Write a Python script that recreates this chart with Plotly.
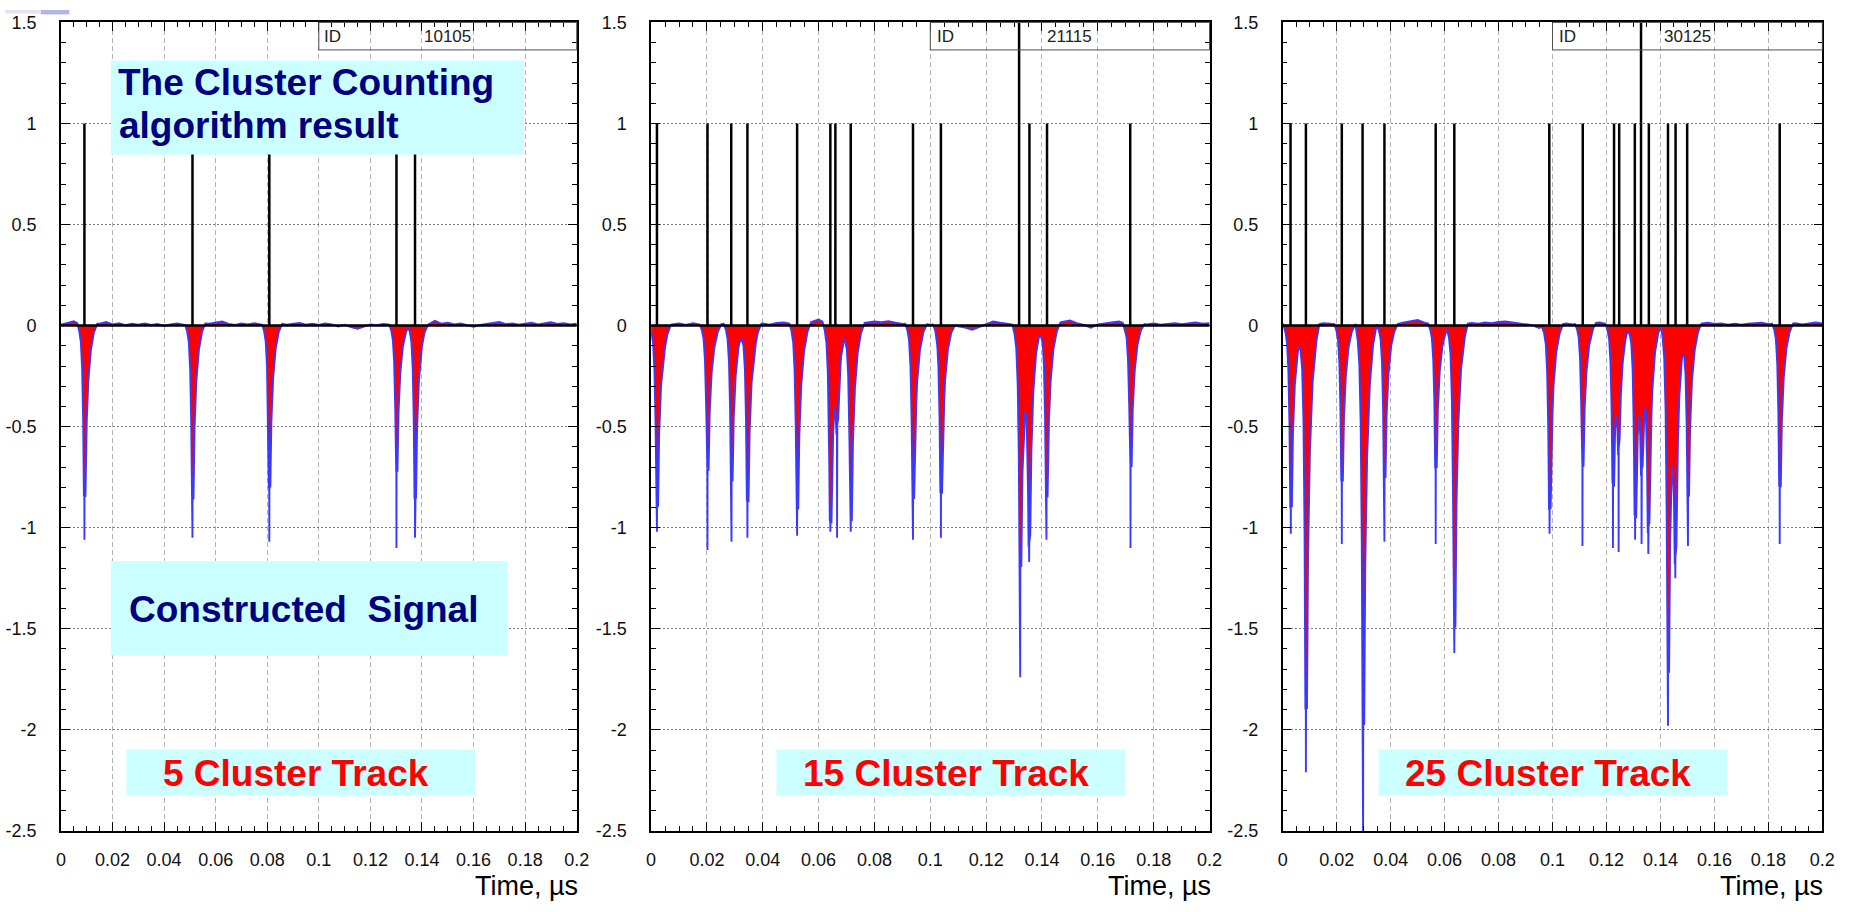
import numpy as np
import plotly.graph_objects as go

FIG_W, FIG_H = 1860, 912

# ---------------- axis tick labels ----------------
X_TICKS = [0, 0.02, 0.04, 0.06, 0.08, 0.1, 0.12, 0.14, 0.16, 0.18, 0.2]
X_TICK_TEXT = ["0", "0.02", "0.04", "0.06", "0.08", "0.1", "0.12", "0.14", "0.16", "0.18", "0.2"]
Y_TICKS = [-2.5, -2, -1.5, -1, -0.5, 0, 0.5, 1, 1.5]
Y_TICK_TEXT = ["-2.5", "-2", "-1.5", "-1", "-0.5", "0", "0.5", "1", "1.5"]

# ---------------- event 10105 : 5 cluster track ----------------
COUNT_T_10105 = [0.0091, 0.0510, 0.0808, 0.1301, 0.1373]
COUNT_H_10105 = [1, 1, 1, 1, 1]
PULSE_T_10105 = [0.0091, 0.0510, 0.0808, 0.1301, 0.1373]
PULSE_TIP_10105 = [-1.06, -1.05, -1.07, -1.10, -1.05]
PULSE_BODY_10105 = [-0.84, -0.86, -0.80, -0.72, -0.86]
NOISE_10105 = [
    0.005, 0.012, 0.022, 0.004, -0.004, 0.008, 0.010, 0.018, 0.006, 0.012,
    0.002, 0.009, 0.004, 0.011, 0.003, 0.008, -0.002, 0.006, 0.010, 0.004,
    0.000, 0.007, 0.012, 0.009, 0.014, 0.020, 0.008, 0.003, 0.010, 0.006,
    0.012, 0.005, 0.000, 0.006, 0.011, 0.004, 0.008, 0.013, 0.005, 0.009,
    0.003, 0.010, 0.006, -0.004, 0.004, -0.008, -0.016, -0.004, 0.006, 0.002,
    0.008, 0.004, 0.000, 0.005, 0.002, 0.008, 0.012, 0.006, 0.024, 0.010,
    0.014, 0.006, 0.011, 0.004, -0.006, 0.003, 0.009, 0.013, 0.018, 0.007,
    0.011, 0.004, 0.010, 0.014, 0.006, 0.012, 0.017, 0.008, 0.012, 0.006,
    0.010,
]

# ---------------- event 21115 : 15 cluster track ----------------
COUNT_T_21115 = [0.0021, 0.0202, 0.0287, 0.0345, 0.0523, 0.0642, 0.0660, 0.0715,
                 0.0938, 0.1038, 0.1318, 0.1355, 0.1418, 0.1716]
COUNT_H_21115 = [1, 1, 1, 1, 1, 1, 1, 1, 1, 1, 2, 1, 1, 1]
PULSE_T_21115 = [0.0021, 0.0202, 0.0288, 0.0345, 0.0523, 0.0642, 0.0666, 0.0715,
                 0.0938, 0.1038, 0.1322, 0.1354, 0.1416, 0.1717]
PULSE_TIP_21115 = [-1.02, -1.11, -1.07, -1.05, -1.04, -1.02, -1.05, -1.02,
                   -1.06, -1.05, -1.74, -1.17, -1.06, -1.10]
PULSE_BODY_21115 = [-0.90, -0.72, -0.77, -0.87, -0.91, -0.97, -0.35, -0.97,
                    -0.86, -0.83, -1.20, -0.97, -0.85, -0.70]
NOISE_21115 = [
    0.004, 0.008, -0.003, 0.006, 0.010, 0.003, 0.012, 0.005, 0.009, 0.002,
    0.007, 0.011, 0.004, 0.008, 0.001, 0.006, 0.010, 0.005, 0.013, 0.016,
    0.009, 0.004, 0.011, 0.018, 0.030, 0.012, 0.005, 0.009, 0.003, 0.007,
    0.012, 0.015, 0.020, 0.017, 0.022, 0.014, 0.008, 0.012, 0.006, 0.010,
    0.004, 0.008, 0.002, 0.006, -0.004, -0.010, -0.020, -0.006, 0.008, 0.020,
    0.014, 0.008, 0.004, 0.010, 0.003, 0.007, 0.011, 0.005, 0.013, 0.018,
    0.025, 0.012, 0.004, -0.010, 0.006, 0.011, 0.015, 0.020, 0.009, 0.005,
    0.011, 0.006, 0.010, 0.004, 0.008, 0.012, 0.007, 0.013, 0.016, 0.009,
    0.012,
]

# ---------------- event 30125 : 25 cluster track ----------------
COUNT_T_30125 = [0.0029, 0.0086, 0.0219, 0.0296, 0.0377, 0.0567, 0.0636, 0.0988,
                 0.1112, 0.1228, 0.1247, 0.1305, 0.1328, 0.1357, 0.1428, 0.1456,
                 0.1499, 0.1842]
COUNT_H_30125 = [1, 1, 1, 1, 1, 1, 1, 1, 1, 1, 1, 1, 2, 1, 1, 1, 1, 1]
PULSE_T_30125 = [0.0030, 0.0086, 0.0219, 0.0298, 0.0377, 0.0567, 0.0636, 0.0989,
                 0.1111, 0.1224, 0.1245, 0.1306, 0.1330, 0.1355, 0.1428, 0.1455,
                 0.1502, 0.1842]
PULSE_TIP_30125 = [-1.03, -2.21, -1.08, -2.55, -1.07, -1.08, -1.62, -1.03,
                   -1.09, -1.10, -1.12, -1.06, -1.08, -1.13, -1.98, -1.25,
                   -1.09, -1.08]
PULSE_BODY_30125 = [-0.90, -1.90, -0.77, -1.98, -0.76, -0.71, -1.50, -0.91,
                    -0.70, -0.77, -0.45, -0.94, -0.55, -0.92, -1.70, -0.93,
                    -0.85, -0.80]
NOISE_30125 = [
    0.006, 0.002, 0.009, 0.004, 0.010, 0.005, 0.012, 0.010, 0.006, 0.003,
    0.008, 0.004, 0.010, 0.006, 0.002, 0.009, 0.013, 0.008, 0.016, 0.022,
    0.028, 0.015, 0.006, 0.010, 0.004, 0.008, 0.012, 0.007, 0.013, 0.010,
    0.015, 0.012, 0.018, 0.020, 0.016, 0.011, 0.006, 0.002, -0.012, 0.000,
    0.008, 0.004, 0.010, 0.006, 0.011, 0.005, 0.012, 0.015, 0.008, 0.004,
    0.010, 0.006, 0.012, 0.003, 0.008, 0.005, 0.011, 0.007, 0.004, 0.009,
    0.012, 0.006, 0.010, 0.014, 0.008, 0.011, 0.005, 0.009, 0.004, 0.010,
    0.013, 0.014, 0.007, 0.011, 0.005, 0.009, 0.012, 0.006, 0.010, 0.016,
    0.011,
]

NOISE_STEP = 0.0025  # baseline samples every 2.5 ns

# single-cluster pulse profile: time offset (us) and fraction of body depth
PULSE_DT = [-0.0028, -0.0020, -0.0014, -0.0009, -0.0005, -0.0002, -0.00004, 0.0,
            0.00004, 0.0004, 0.0008, 0.0015, 0.0025, 0.0037, 0.0050]
PULSE_FRAC = [0.0, 0.04, 0.10, 0.25, 0.55, 1.0, 1.0, 1.0,
              1.0, 1.0, 0.60, 0.33, 0.15, 0.05, 0.0]


def build_signal(noise, times, tips, bodies):
    tn = np.arange(len(noise)) * NOISE_STEP
    parts = [tn] + [t + np.asarray(PULSE_DT) for t in times]
    grid = np.unique(np.round(np.concatenate(parts), 7))
    grid = grid[(grid >= 0) & (grid <= 0.2)]
    v = np.interp(grid, tn, noise)
    for t, b in zip(times, bodies):
        v = v + b * np.interp(grid - t, PULSE_DT, PULSE_FRAC, left=0.0, right=0.0)
    for t, tip in zip(times, tips):
        v[np.argmin(np.abs(grid - t))] = tip
    return grid, v


def build_count(times, heights):
    x, y = [0.0], [0.0]
    for t, h in zip(times, heights):
        x += [t, t, t]
        y += [0.0, h, 0.0]
    x.append(0.2)
    y.append(0.0)
    return x, y


def px(x):
    return x / FIG_W


def py(y):
    return 1 - y / FIG_H


PANEL_X_PX = [(56.5, 577.3), (652.4, 1216.3), (1290.2, 1835.1)]
PANEL_Y_PX = (12.7, 839.3)

panels = [
    dict(ident="10105", label="5 Cluster Track", count=(COUNT_T_10105, COUNT_H_10105),
         pulses=(NOISE_10105, PULSE_T_10105, PULSE_TIP_10105, PULSE_BODY_10105),
         box=(122.6, 474.5), text_x=294),
    dict(ident="21115", label="15 Cluster Track", count=(COUNT_T_21115, COUNT_H_21115),
         pulses=(NOISE_21115, PULSE_T_21115, PULSE_TIP_21115, PULSE_BODY_21115),
         box=(779.0, 1131.0), text_x=950),
    dict(ident="30125", label="25 Cluster Track", count=(COUNT_T_30125, COUNT_H_30125),
         pulses=(NOISE_30125, PULSE_T_30125, PULSE_TIP_30125, PULSE_BODY_30125),
         box=(1387.0, 1739.0), text_x=1558),
]

NARROW = "Liberation Sans Narrow, Arial Narrow, Liberation Sans, Arial"
BOLD = "Liberation Sans, Arial, Helvetica"
SIG_BLUE = "#3a3aff"
BOX_FILL = "#ccffff"

fig = go.Figure()
shapes, annotations = [], []
layout_axes = {}

for k, p in enumerate(panels, start=1):
    xa = "x" if k == 1 else f"x{k}"
    ya = "y" if k == 1 else f"y{k}"
    sx, sv = build_signal(*p["pulses"])
    fig.add_trace(go.Scatter(
        x=sx, y=sv, mode="lines", xaxis=xa, yaxis=ya,
        line=dict(color=SIG_BLUE, width=1.9),
        fill="tozeroy", fillcolor="#ff0000", hoverinfo="skip"))
    cx, cy = build_count(*p["count"])
    fig.add_trace(go.Scatter(
        x=cx, y=cy, mode="lines", xaxis=xa, yaxis=ya,
        line=dict(color="black", width=2.5), hoverinfo="skip"))

    x0, x1 = PANEL_X_PX[k - 1]
    layout_axes["xaxis" if k == 1 else f"xaxis{k}"] = dict(
        domain=[px(x0), px(x1)], anchor=ya, range=[0, 0.2],
        tickmode="array", tickvals=X_TICKS, ticktext=X_TICK_TEXT,
        ticks="inside", ticklen=9, tickwidth=1.2, tickcolor="black",
        minor=dict(ticks="inside", ticklen=5, tickwidth=1, tickcolor="black",
                   tickmode="linear", tick0=0, dtick=0.005, showgrid=False),
        showline=True, linecolor="black", linewidth=2, mirror="ticks",
        showgrid=True, gridcolor="#b4b4b4", gridwidth=1, griddash="5px,3px",
        zeroline=False, ticklabelstandoff=12,
        tickfont=dict(family=NARROW, size=18, color="#111111"))
    layout_axes["yaxis" if k == 1 else f"yaxis{k}"] = dict(
        domain=[py(PANEL_Y_PX[1]), py(PANEL_Y_PX[0])], anchor=xa, range=[-2.5, 1.5],
        tickmode="array", tickvals=Y_TICKS, ticktext=Y_TICK_TEXT,
        ticks="inside", ticklen=9, tickwidth=1.2, tickcolor="black",
        minor=dict(ticks="inside", ticklen=5, tickwidth=1, tickcolor="black",
                   tickmode="linear", tick0=0, dtick=0.1, showgrid=False),
        showline=True, linecolor="black", linewidth=1.5, mirror="ticks",
        showgrid=True, gridcolor="#7a7a7a", gridwidth=1.2, griddash="2px,2px",
        zeroline=False, ticklabelstandoff=19,
        tickfont=dict(family=NARROW, size=18, color="#111111"))

    # ID statistics box
    dref = f"{xa} domain"
    yref = f"{ya} domain"
    shapes.append(dict(type="rect", xref=dref, yref=yref, x0=0.5, x1=1.0, y0=0.966, y1=1.0,
                       line=dict(color="#505050", width=1), fillcolor="rgba(0,0,0,0)",
                       layer="above"))
    annotations.append(dict(text="ID", xref=dref, yref=yref, x=0.527, y=0.982,
                            showarrow=False, xanchor="center", yanchor="middle",
                            font=dict(family=NARROW, size=17, color="#222222")))
    annotations.append(dict(text=p["ident"], xref=dref, yref=yref, x=0.75, y=0.982,
                            showarrow=False, xanchor="center", yanchor="middle",
                            font=dict(family=NARROW, size=17, color="#222222")))

    # axis title, sitting below the tick labels at the right end of the axis
    annotations.append(dict(text="Time, µs", xref="paper", yref="paper",
                            x=px(x1 + 2), y=0, showarrow=False,
                            xanchor="right", yanchor="bottom", borderpad=0,
                            font=dict(family=NARROW, size=27, color="black")))

    # track label box
    bx0, bx1 = p["box"]
    shapes.append(dict(type="rect", xref="paper", yref="paper",
                       x0=px(bx0), x1=px(bx1), y0=py(803), y1=py(756),
                       line=dict(width=0), fillcolor=BOX_FILL, layer="above"))
    annotations.append(dict(text=p["label"], xref="paper", yref="paper",
                            x=px(p["text_x"]), y=py(780.5), showarrow=False,
                            xanchor="center", yanchor="middle",
                            font=dict(family=BOLD, size=37, color="#ff0000", weight="bold")))

# description boxes on the first panel
shapes.append(dict(type="rect", xref="paper", yref="paper",
                   x0=px(106.8), x1=px(524), y0=py(147.7), y1=py(51.7),
                   line=dict(width=0), fillcolor=BOX_FILL, layer="above"))
annotations.append(dict(text="The Cluster Counting", xref="paper", yref="paper",
                        x=px(112), y=py(74), showarrow=False,
                        xanchor="left", yanchor="middle",
                        font=dict(family=BOLD, size=37, color="#000080", weight="bold")))
annotations.append(dict(text="algorithm result", xref="paper", yref="paper",
                        x=px(113), y=py(118), showarrow=False,
                        xanchor="left", yanchor="middle",
                        font=dict(family=BOLD, size=37, color="#000080", weight="bold")))
shapes.append(dict(type="rect", xref="paper", yref="paper",
                   x0=px(106.8), x1=px(507), y0=py(660), y1=py(563.3),
                   line=dict(width=0), fillcolor=BOX_FILL, layer="above"))
annotations.append(dict(text="Constructed\u00a0 Signal", xref="paper", yref="paper",
                        x=px(301.5), y=py(612.5), showarrow=False,
                        xanchor="center", yanchor="middle",
                        font=dict(family=BOLD, size=37, color="#000080", weight="bold")))

# slide corner decoration
shapes.append(dict(type="rect", xref="paper", yref="paper", x0=0, x1=px(35), y0=py(3.5), y1=1,
                   line=dict(width=0), fillcolor="#e2e2f4", layer="above"))
shapes.append(dict(type="rect", xref="paper", yref="paper", x0=px(36), x1=px(65), y0=py(4.5), y1=1,
                   line=dict(width=0), fillcolor="#b4b4e6", layer="above"))

fig.update_layout(
    width=FIG_W, height=FIG_H, margin=dict(l=0, r=0, t=0, b=0),
    paper_bgcolor="white", plot_bgcolor="white", showlegend=False,
    shapes=shapes, annotations=annotations, **layout_axes)

fig.write_html("out.html")
